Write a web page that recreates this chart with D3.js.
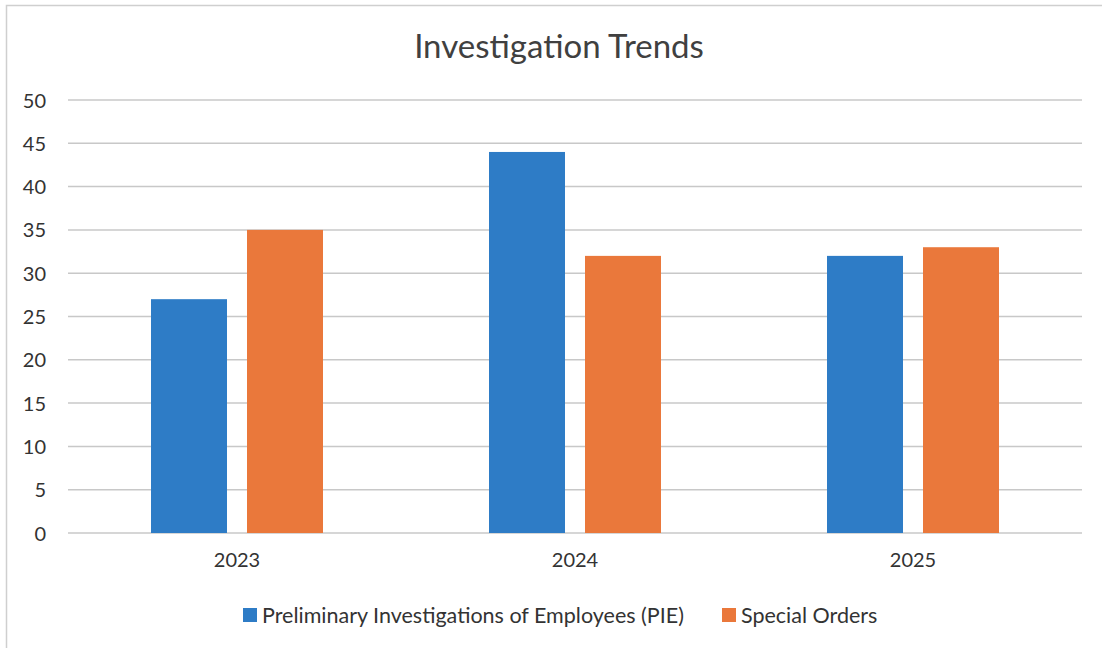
<!DOCTYPE html>
<html><head><meta charset="utf-8">
<script src="https://cdn.jsdelivr.net/npm/d3@7"></script>
<style>body{margin:0;background:#fff;font-family:Lato,"Open Sans",sans-serif;}</style>
</head><body>
<svg id="c" width="1102" height="648"></svg>
<script>
(function(){
const categories = ["2023","2024","2025"];
const seriesNames = ["Preliminary Investigations of Employees (PIE)","Special Orders"];
const pieValues = [27,44,32];
const specialValues = [35,32,33];
const yTicks = [0,5,10,15,20,25,30,35,40,45,50];
const colors = ["#2E7CC6","#EA783B"];

const svg = d3.select("#c");
svg.append("rect").attr("x",6.5).attr("y",5.5).attr("width",1200).attr("height",700)
  .attr("fill","none").attr("stroke","#cfcfcf").attr("stroke-width",1.5);

const pLeft=68, pRight=1082, pTop=100, pBottom=533;
const x0 = d3.scaleBand().domain(categories).range([pLeft,pRight]);
const y = d3.scaleLinear().domain([0,50]).range([pBottom,pTop]);

svg.append("text").attr("x",559).attr("y",58).attr("text-anchor","middle")
  .attr("font-size",33).attr("fill","#404040").text("Investigation Trends");

const grid = svg.append("g");
grid.selectAll("line").data(yTicks).join("line")
  .attr("x1",pLeft).attr("x2",pRight).attr("y1",d=>y(d)).attr("y2",d=>y(d))
  .attr("stroke","#c8c8c8").attr("stroke-width",1.5);

const yAxis = d3.axisLeft(y).tickValues(yTicks).tickSize(0).tickPadding(0);
const ya = svg.append("g").attr("transform",`translate(46,0)`).call(yAxis);
ya.select(".domain").remove();
ya.selectAll("text").attr("font-size",20).attr("fill","#333").attr("font-family","Lato,'Open Sans',sans-serif").attr("dy","0.35em");

const xAxis = d3.axisBottom(x0).tickSize(0).tickPadding(0);
const xa = svg.append("g").attr("transform",`translate(0,${pBottom+20})`).call(xAxis);
xa.select(".domain").remove();
xa.selectAll("text").attr("font-size",20).attr("fill","#333").attr("font-family","Lato,'Open Sans',sans-serif").attr("dy","0.71em");

const series = [pieValues, specialValues];
const bw = 76, gap = 20;
series.forEach((vals,si)=>{
  svg.append("g").selectAll("rect").data(vals).join("rect")
    .attr("x",(d,i)=>x0(categories[i]) + x0.bandwidth()/2 - (bw + gap/2) + si*(bw+gap))
    .attr("width",bw)
    .attr("y",d=>y(d)).attr("height",d=>pBottom-y(d))
    .attr("fill",colors[si]);
});

const legend = svg.append("g").attr("font-size",21.5).attr("fill","#333");
const legX = [243, 722];
seriesNames.forEach((n,i)=>{
  legend.append("rect").attr("x",legX[i]).attr("y",608).attr("width",14).attr("height",14).attr("fill",colors[i]);
  legend.append("text").attr("x",legX[i]+19).attr("y",615).attr("dy","0.35em").attr("fill","#333").text(n);
});
})();
</script>
</body></html>
